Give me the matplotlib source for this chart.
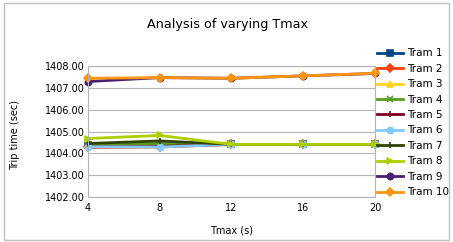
import matplotlib
matplotlib.use("Agg")
import matplotlib.pyplot as plt
from matplotlib.patches import Rectangle

plt.rcParams['font.family'] = ['DejaVu Sans']

tmax = [4, 8, 12, 16, 20]
tram_names = ["Tram 1", "Tram 2", "Tram 3", "Tram 4", "Tram 5",
              "Tram 6", "Tram 7", "Tram 8", "Tram 9", "Tram 10"]
tram1 = [1404.38, 1404.38, 1404.41, 1404.41, 1404.41]
tram2 = [1404.27, 1404.29, 1404.41, 1404.41, 1404.41]
tram3 = [1404.38, 1404.40, 1404.41, 1404.41, 1404.41]
tram4 = [1404.40, 1404.45, 1404.41, 1404.41, 1404.41]
tram5 = [1404.30, 1404.32, 1404.41, 1404.41, 1404.41]
tram6 = [1404.30, 1404.29, 1404.41, 1404.41, 1404.41]
tram7 = [1404.45, 1404.57, 1404.41, 1404.41, 1404.41]
tram8 = [1404.68, 1404.82, 1404.41, 1404.41, 1404.41]
tram9 = [1407.29, 1407.47, 1407.44, 1407.55, 1407.66]
tram10 = [1407.44, 1407.47, 1407.44, 1407.55, 1407.67]
series = [tram1, tram2, tram3, tram4, tram5, tram6, tram7, tram8, tram9, tram10]
yticks = [1402, 1403, 1404, 1405, 1406, 1407, 1408]

colors = ["#004586", "#ff420e", "#ffd320", "#579d1c", "#7e0021",
          "#83caff", "#314004", "#aecf00", "#4b1f6f", "#ff950e"]
markers = ["s", "D", "^", "x", "|", "o", "|", ">", "o", "D"]

fig = plt.figure(figsize=(4.53, 2.42), dpi=100)
ax = fig.add_axes([0.194, 0.186, 0.634, 0.541])

for name, vals, c, m in zip(tram_names, series, colors, markers):
    ax.plot(tmax, vals, color=c, marker=m, markersize=4.5, linewidth=2.0,
            markeredgewidth=1.2, label=name, clip_on=False)

ax.set_xlim(4, 20)
ax.set_ylim(1402, 1408)
ax.set_xticks([4, 8, 12, 16, 20])
ax.set_yticks(yticks)
ax.set_yticklabels([f"{v:.2f}" for v in yticks])
ax.tick_params(labelsize=7, length=0, pad=2)
ax.tick_params(axis='x', pad=4.5)
ax.grid(True, axis='y', color='#b3b3b3', linewidth=0.8)
ax.set_axisbelow(True)
for s in ax.spines.values():
    s.set_color('#b3b3b3')
    s.set_linewidth(0.8)

ax.set_xlabel("Tmax (s)", fontsize=7, labelpad=9)
ax.set_ylabel("Trip time (sec)", fontsize=7)
ax.yaxis.set_label_coords(-0.235, 0.47)
fig.text(0.503, 0.9, "Analysis of varying Tmax", fontsize=9.2, ha='center', va='center')

leg = fig.legend(loc='upper left', bbox_to_anchor=(0.832, 0.80), frameon=False,
                 fontsize=7.5, handlelength=2.5, labelspacing=0.52, borderaxespad=0,
                 handletextpad=0.35, borderpad=0)

fig.patches.append(Rectangle((0.009, 0.01), 0.982, 0.978, transform=fig.transFigure,
                             fill=False, edgecolor='#c0c0c0', linewidth=1))

fig.savefig("out.png", dpi=100)
